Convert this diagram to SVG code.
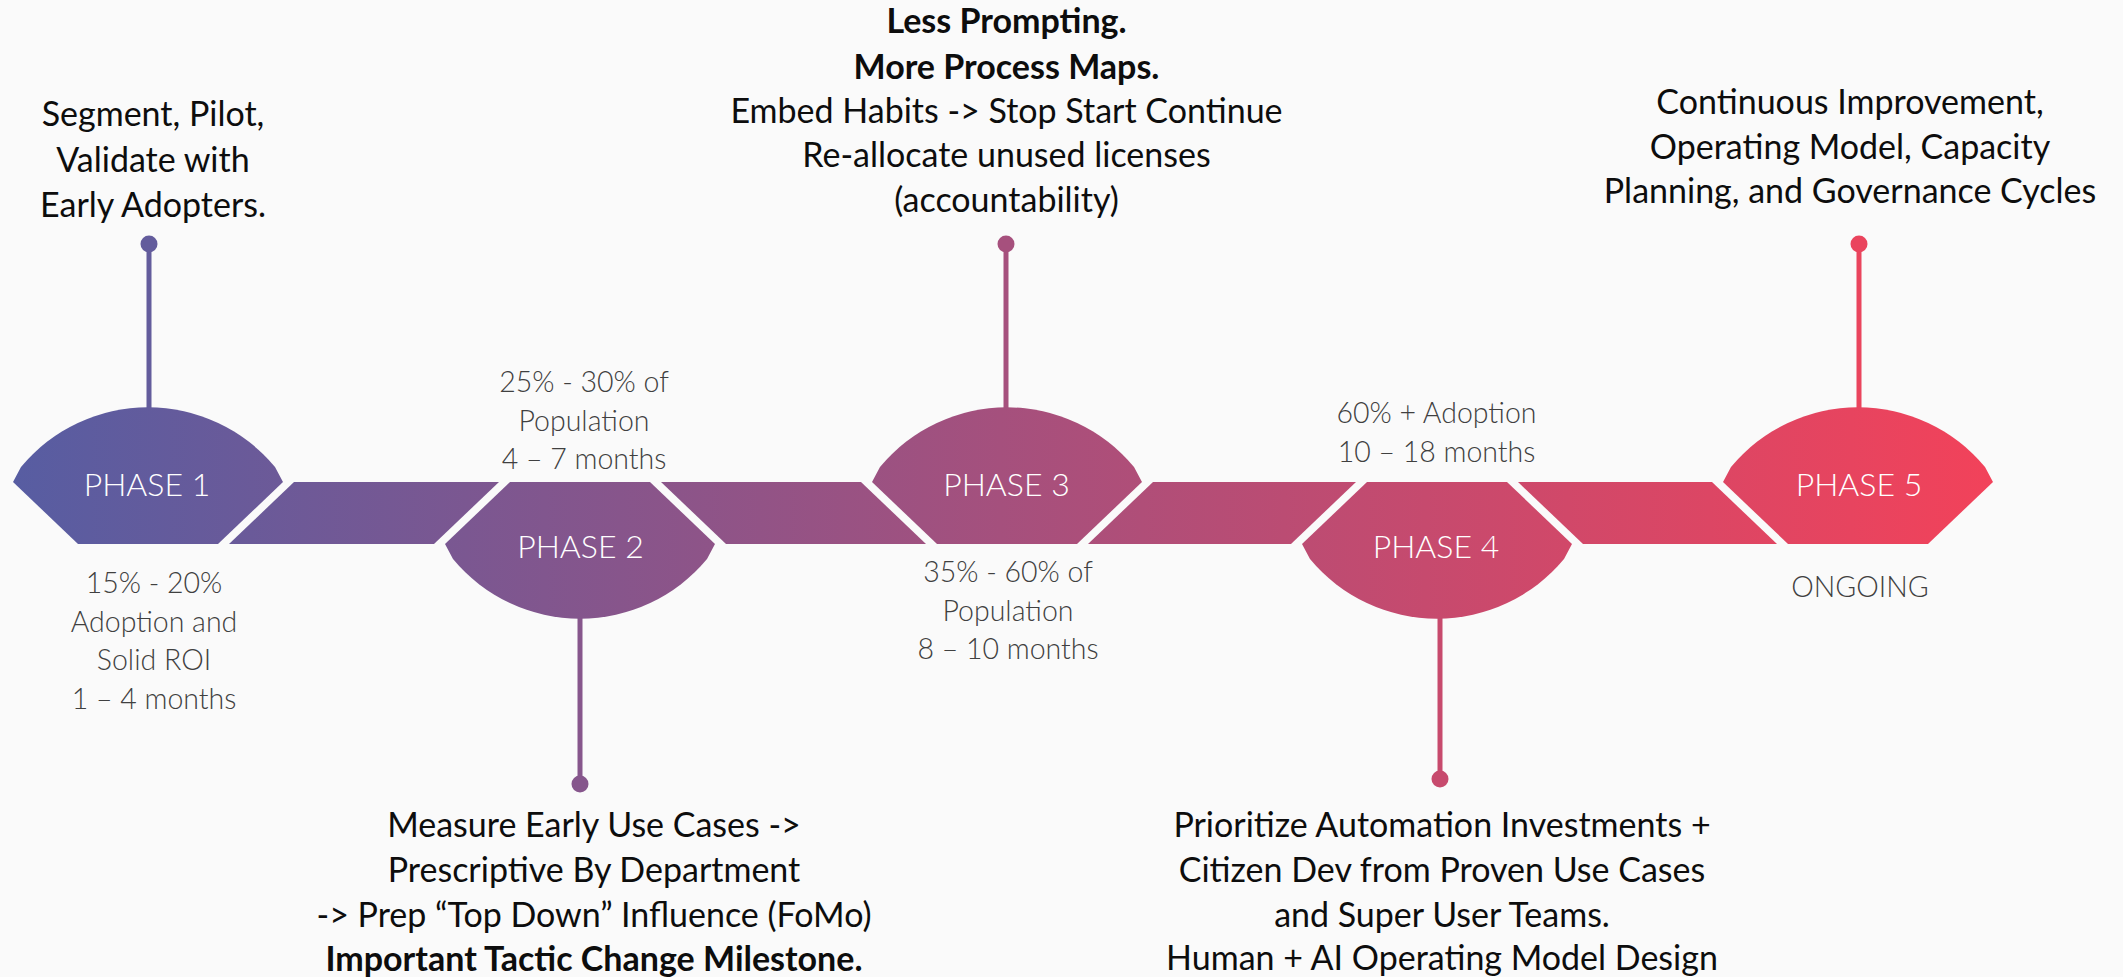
<svg xmlns="http://www.w3.org/2000/svg" width="2123" height="977" viewBox="0 0 2123 977">
  <defs>
    <linearGradient id="g" gradientUnits="userSpaceOnUse" x1="10" y1="0" x2="1992" y2="0">
      <stop offset="0" stop-color="#575DA2"/>
      <stop offset="0.5" stop-color="#A5507D"/>
      <stop offset="1" stop-color="#F2425A"/>
    </linearGradient>
    <style>
      .sh { fill: url(#g); }
      .ph { font-family: Lato, "Liberation Sans", sans-serif; font-weight: 300; font-size: 32px; fill: #FFFFFF; text-anchor: middle; }
      .gr { font-family: Lato, "Liberation Sans", sans-serif; font-weight: 300; font-size: 28.5px; fill: #404040; text-anchor: middle; }
      .bk { font-family: Lato, "Liberation Sans", sans-serif; font-weight: 400; font-size: 34px; fill: #0D0D0D; text-anchor: middle; }
      .b { font-weight: 700; }
      .stem { stroke-width: 5; fill: none; }
    </style>
  </defs>
  <rect width="2123" height="977" fill="#FAFAFA"/>

  <g id="connectors">
    <path class="sh" d="M294,482 L499,482 L434,544 L229,544 Z"/>
    <path class="sh" d="M661,482 L861,482 L926,544 L726,544 Z"/>
    <path class="sh" d="M1153,482 L1356,482 L1291,544 L1088,544 Z"/>
    <path class="sh" d="M1518,482 L1712,482 L1777,544 L1583,544 Z"/>
    <line class="stem" x1="149" y1="244" x2="149" y2="410" stroke="#635C9C"/>
    <circle cx="149" cy="244" r="8.5" fill="#635C9C"/>
    <line class="stem" x1="580" y1="615" x2="580" y2="784" stroke="#86568C"/>
    <circle cx="580" cy="784" r="8.5" fill="#86568C"/>
    <line class="stem" x1="1006" y1="244" x2="1006" y2="410" stroke="#A6507D"/>
    <circle cx="1006" cy="244" r="8.5" fill="#A6507D"/>
    <line class="stem" x1="1440" y1="615" x2="1440" y2="779" stroke="#C74A6D"/>
    <circle cx="1440" cy="779" r="8.5" fill="#C74A6D"/>
    <line class="stem" x1="1859" y1="244" x2="1859" y2="410" stroke="#EA445D"/>
    <circle cx="1859" cy="244" r="8.5" fill="#EA445D"/>
  </g>

  <g id="phase1">
    <path class="sh" d="M13,482 L21,467 A165,165 0 0 1 275,467 L283,482 L218,544 L78,544 Z"/>
    <text class="ph" x="147" y="496">PHASE 1</text>
    <text class="bk" x="153"><tspan x="153" y="126">Segment, Pilot,</tspan><tspan x="153" y="171.5">Validate with</tspan><tspan x="153" y="217">Early Adopters.</tspan></text>
    <text class="gr"><tspan x="154" y="593">15% - 20%</tspan><tspan x="154" y="631.5">Adoption and</tspan><tspan x="154" y="670">Solid ROI</tspan><tspan x="154" y="708.5">1 – 4 months</tspan></text>
  </g>

  <g id="phase2">
    <path class="sh" d="M510,482 L650,482 L715,544 L707,559 A165,165 0 0 1 453,559 L445,544 Z"/>
    <text class="ph" x="580.5" y="558">PHASE 2</text>
    <text class="gr"><tspan x="584" y="392">25% - 30% of</tspan><tspan x="584" y="430.5">Population</tspan><tspan x="584" y="469">4 – 7 months</tspan></text>
    <text class="bk"><tspan x="594" y="837">Measure Early Use Cases -&gt;</tspan><tspan x="594" y="882">Prescriptive By Department</tspan><tspan x="594" y="927">-&gt; Prep “Top Down” Influence (FoMo)</tspan><tspan x="594" y="971" class="b">Important Tactic Change Milestone.</tspan></text>
  </g>

  <g id="phase3">
    <path class="sh" d="M872,482 L880,467 A165,165 0 0 1 1134,467 L1142,482 L1077,544 L937,544 Z"/>
    <text class="ph" x="1006.5" y="496">PHASE 3</text>
    <text class="bk"><tspan x="1006.5" y="33" class="b">Less Prompting.</tspan><tspan x="1006.5" y="79" class="b">More Process Maps.</tspan><tspan x="1006.5" y="123">Embed Habits -&gt; Stop Start Continue</tspan><tspan x="1006.5" y="167">Re-allocate unused licenses</tspan><tspan x="1006.5" y="212">(accountability)</tspan></text>
    <text class="gr"><tspan x="1008" y="582">35% - 60% of</tspan><tspan x="1008" y="620.5">Population</tspan><tspan x="1008" y="659">8 – 10 months</tspan></text>
  </g>

  <g id="phase4">
    <path class="sh" d="M1367,482 L1507,482 L1572,544 L1564,559 A165,165 0 0 1 1310,559 L1302,544 Z"/>
    <text class="ph" x="1436" y="558">PHASE 4</text>
    <text class="gr"><tspan x="1436.5" y="423">60% + Adoption</tspan><tspan x="1436.5" y="461.5">10 – 18 months</tspan></text>
    <text class="bk"><tspan x="1442" y="837">Prioritize Automation Investments +</tspan><tspan x="1442" y="882">Citizen Dev from Proven Use Cases</tspan><tspan x="1442" y="927">and Super User Teams.</tspan><tspan x="1442" y="970">Human + AI Operating Model Design</tspan></text>
  </g>

  <g id="phase5">
    <path class="sh" d="M1723,482 L1731,467 A165,165 0 0 1 1985,467 L1993,482 L1928,544 L1788,544 Z"/>
    <text class="ph" x="1859" y="496">PHASE 5</text>
    <text class="bk"><tspan x="1850" y="114">Continuous Improvement,</tspan><tspan x="1850" y="159">Operating Model, Capacity</tspan><tspan x="1850" y="203">Planning, and Governance Cycles</tspan></text>
    <text class="gr"><tspan x="1860" y="597">ONGOING</tspan></text>
  </g>
</svg>
